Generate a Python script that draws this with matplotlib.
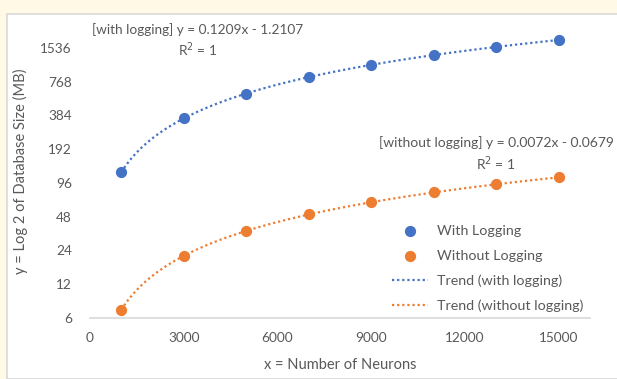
import numpy as np
import matplotlib.pyplot as plt
from matplotlib.patches import Rectangle

# Neuronen-Anzahl und Datenbankgröße (MB)
neurons = [1000, 3000, 5000, 7000, 9000, 11000, 13000, 15000]
with_logging = [120, 362, 603, 845, 1087, 1329, 1570, 1812]
without_logging = [7.1, 21.5, 35.9, 50.3, 64.7, 79.1, 93.5, 107.9]
y_ticks = [6, 12, 24, 48, 96, 192, 384, 768, 1536]
x_ticks = [0, 3000, 6000, 9000, 12000, 15000]

blue = "#4472C4"
orange = "#ED7D31"
grey = "#595959"

plt.rcParams["font.family"] = ["Lato", "DejaVu Sans"]

fig = plt.figure(figsize=(6.17, 3.79), dpi=100)
fig.patch.set_facecolor("#FFF9E6")
# weißer Diagrammbereich mit grauem Rahmen
fig.patches.append(Rectangle((7 / 617, 0), 1, 1 - 14 / 379, transform=fig.transFigure,
                             facecolor="white", edgecolor="#D9D9D9", linewidth=1.2, zorder=-10))

ax = fig.add_axes([90 / 617, 1 - 318 / 379, 500 / 617, 293 / 379])
ax.set_facecolor("none")

# Trendlinien (lineare Regression)
xs = np.linspace(neurons[0], neurons[-1], 300)
fit_w = np.polyfit(neurons, with_logging, 1)
fit_wo = np.polyfit(neurons, without_logging, 1)

ax.scatter(neurons, with_logging, s=50, color=blue, zorder=3, label="With Logging")
ax.scatter(neurons, without_logging, s=50, color=orange, zorder=3, label="Without Logging")
ax.plot(xs, np.polyval(fit_w, xs), color=blue, linestyle=(0, (1, 1.3)), lw=1.6,
        label="Trend (with logging)")
ax.plot(xs, np.polyval(fit_wo, xs), color=orange, linestyle=(0, (1, 1.3)), lw=1.6,
        label="Trend (without logging)")

ax.set_yscale("log", base=2)
ax.set_ylim(6, 6 * 2 ** (293 / 33.75))
ax.set_xlim(0, 16000)
ax.set_yticks(y_ticks)
ax.set_yticklabels([str(v) for v in y_ticks])
ax.minorticks_off()
ax.set_xticks(x_ticks)
ax.tick_params(length=0, labelsize=9.8, labelcolor=grey)
ax.tick_params(axis="y", pad=13)
ax.tick_params(axis="x", pad=10)

for s in ["top", "right", "left"]:
    ax.spines[s].set_visible(False)
ax.spines["bottom"].set_color("#D9D9D9")
ax.spines["bottom"].set_linewidth(1.2)

ax.set_xlabel("x = Number of Neurons", fontsize=10.5, color=grey, labelpad=10)
ax.set_ylabel("y = Log 2 of Database Size (MB)", fontsize=10.5, color=grey, labelpad=9)

ax.text(3430, 1780, "[with logging] y = 0.1209x - 1.2107\nR$^2$ = 1", ha="center", va="center",
        fontsize=9.8, color=grey, linespacing=1.3)
ax.text(13000, 172, "[without logging] y = 0.0072x - 0.0679\nR$^2$ = 1", ha="center", va="center",
        fontsize=10, color=grey, linespacing=1.3)

leg = ax.legend(loc="lower right", bbox_to_anchor=(1.012, -0.025), frameon=False, fontsize=10.3,
                labelcolor=grey, handlelength=2.5, handletextpad=0.6, labelspacing=0.9)

plt.savefig("out.png", dpi=100, facecolor=fig.get_facecolor())
